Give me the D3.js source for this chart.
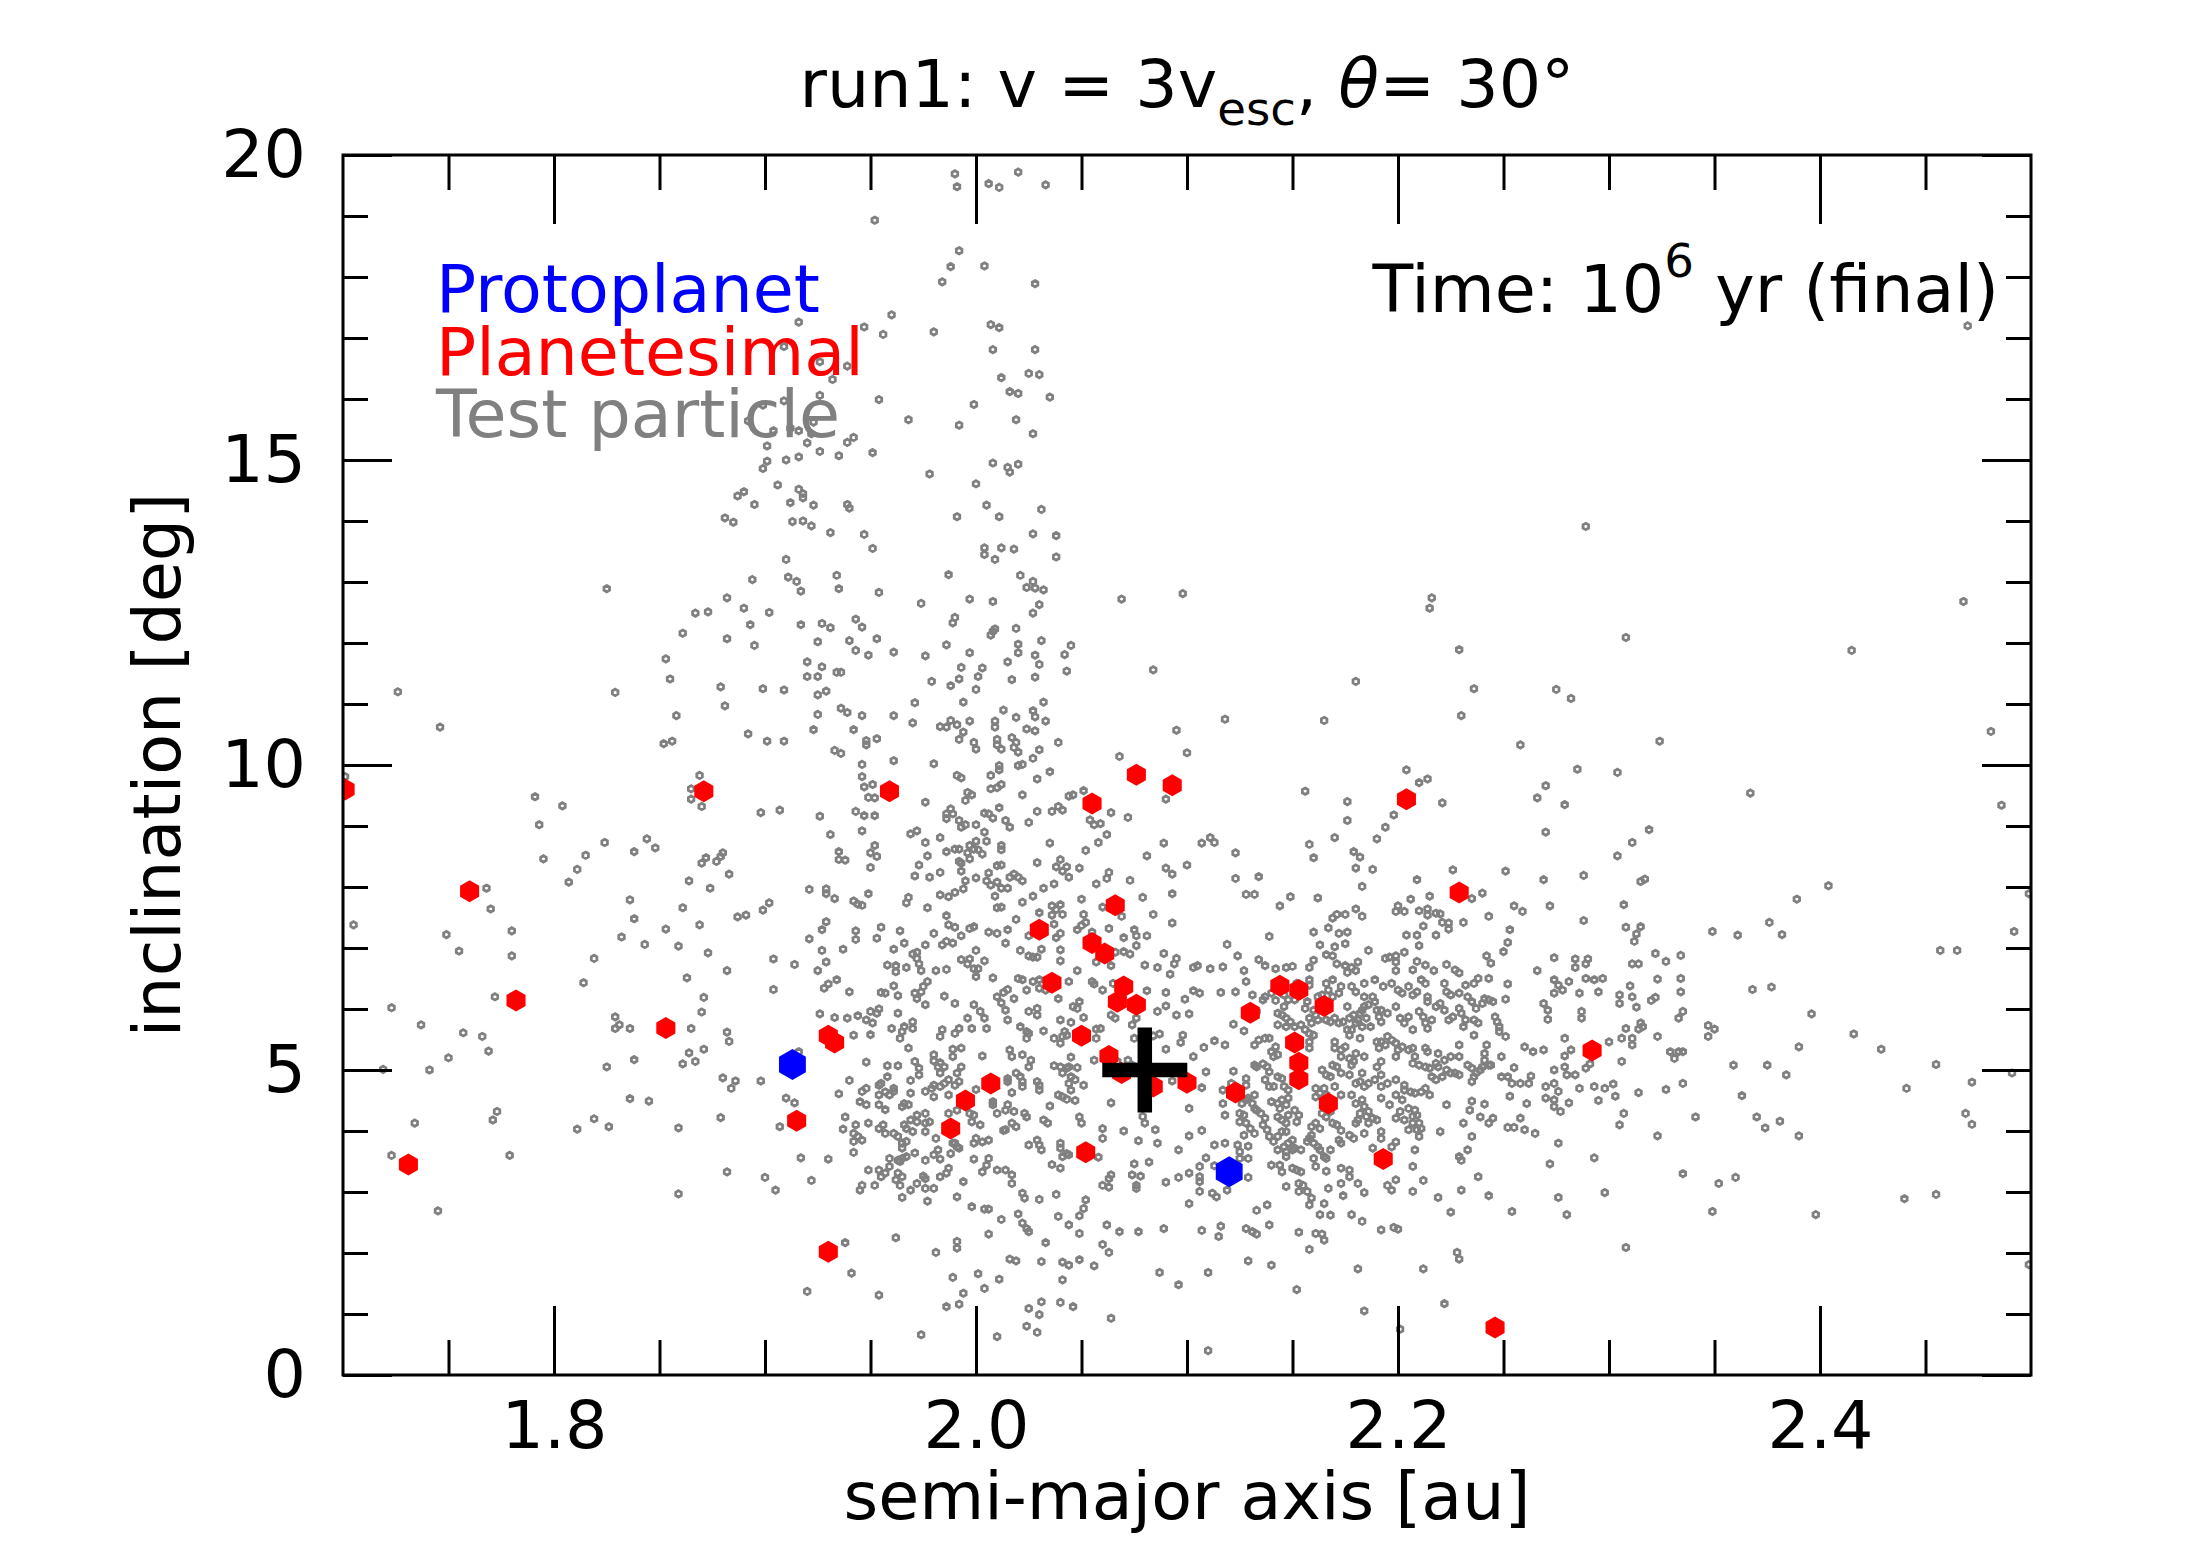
<!DOCTYPE html>
<html><head><meta charset="utf-8">
<script src="https://cdn.jsdelivr.net/npm/d3@7"></script>
<style>html,body{margin:0;padding:0;background:#fff;}svg{display:block;}text{font-family:"DejaVu Sans",sans-serif;}</style>
</head><body>
<svg id="chart" width="2188" height="1563"></svg>
<script>
// ---------------- data (semi-major axis [au], inclination [deg]) ----------------
const xDomain = [1.7, 2.5];
const yDomain = [0, 20];
const xMajorTicks = [1.8, 2.0, 2.2, 2.4];
const xMinorTicks = [1.75, 1.85, 1.9, 1.95, 2.05, 2.1, 2.15, 2.25, 2.3, 2.35, 2.45];
const yMajorTicks = [0, 5, 10, 15, 20];
const yMinorTicks = [1,2,3,4,6,7,8,9,11,12,13,14,16,17,18,19];
const titleMain = "run1: v = 3v", titleSub = "esc", titleTheta = "θ", titleEnd = "= 30°";
const timeLabel = ["Time: 10", "6", " yr (final)"];
const legendLabels = ["Protoplanet", "Planetesimal", "Test particle"];
const seriesColors = ["#0000ff", "#ff0000", "#808080"];

const protoplanets = [[1.913,5.09],[2.120,3.33]];
const centroid = [[2.080,5.0]];
const planetesimals = [
[1.701,9.60],[1.871,9.57],[1.760,7.93],
[1.959,9.57],[2.076,9.84],[2.093,9.67],[2.055,9.37],[2.066,7.70],[2.030,7.30],[2.055,7.08],[2.061,6.91],
[2.204,9.44],[2.229,7.91],
[1.782,6.14],[1.853,5.69],[1.731,3.45],
[2.036,6.43],[2.070,6.37],[2.067,6.12],[2.076,6.07],[1.930,5.56],[1.933,5.45],[2.050,5.56],[2.063,5.23],[2.069,4.95],[2.007,4.78],[1.995,4.50],[2.084,4.73],[2.100,4.79],[1.915,4.17],[1.988,4.04],[2.052,3.65],[1.930,2.02],
[2.144,6.38],[2.153,6.31],[2.165,6.05],[2.130,5.94],[2.151,5.45],[2.153,5.12],[2.153,4.85],[2.123,4.63],[2.167,4.45],[2.193,3.54],[2.292,5.32],[2.246,0.78]
];

const testParticlesHigh = [
[1.899,15.90],[1.892,15.64],[1.901,15.23],[1.901,14.98],[1.899,14.86],[1.887,14.41],[1.890,14.48],[1.895,14.27],[1.881,14.05],[1.885,13.98],
[1.990,19.69],[1.991,19.48],[2.006,19.53],[2.011,19.47],[2.020,19.72],[2.033,19.51],[1.952,18.93],[1.992,18.43],[1.988,18.17],[1.984,17.92],[2.004,18.18],[2.028,17.89],[1.916,17.26],[1.960,17.38],[1.947,17.18],[1.956,17.06],[1.980,17.10],[2.007,17.22],[2.011,17.17],[1.909,16.86],[2.008,16.81],[2.028,16.81],[1.926,16.61],[1.939,16.54],[1.932,16.32],[2.012,16.35],[2.025,16.42],[2.030,16.40],[1.926,16.06],[1.909,15.97],[1.954,15.99],[2.016,16.12],[2.020,16.09],[2.035,16.03],[1.999,15.91],[1.968,15.66],[1.992,15.57],[2.019,15.66],[2.027,15.43],[1.923,15.62],[1.904,15.48],[1.912,15.52],[1.916,15.48],[1.922,15.43],[1.920,15.28],[1.939,15.29],[1.942,15.37],[1.910,15.00],[1.916,15.05],[1.926,15.14],[1.935,15.07],[1.951,15.12],[1.978,14.77],[2.000,14.61],[2.008,14.95],[2.015,14.88],[2.016,14.80],[2.020,14.93],[1.906,14.59],[1.916,14.52],[1.918,14.45],[1.918,14.38],[1.912,14.30],[1.923,14.26],[1.939,14.27],[1.940,14.21],[2.005,14.26],[2.031,14.19],[1.991,14.07],[2.011,14.07],[1.913,13.99],[1.918,14.00],[1.922,13.92],[1.931,13.81],[1.947,13.78],[1.951,13.55],[1.910,13.37],[2.027,13.79],[2.038,13.76],[2.038,13.41],[2.004,13.56],[2.004,13.45],[2.012,13.56],[2.009,13.37],[2.018,13.54],
[2.289,13.91],[2.470,17.2]
];

const testParticlesMid = [
[1.825,12.89],[1.894,13.04],[1.882,12.74],[1.890,12.57],[1.902,12.50],[1.867,12.49],[1.873,12.51],[1.893,12.30],[1.861,12.16],[1.882,12.07],[1.895,11.96],[1.853,11.74],[1.855,11.41],[1.879,11.28],[1.899,11.25],[1.726,11.20],[1.829,11.19],[1.881,10.97],[1.858,10.81],[1.746,10.62],[1.892,10.51],[1.901,10.39],[1.852,10.35],[1.856,10.39],[1.869,9.83],[1.701,9.81],[1.865,9.61],[1.865,9.44],[1.870,9.32],[1.898,9.22],[1.791,9.48],[1.804,9.33],[1.793,9.02],[1.824,8.73],[1.844,8.79],[1.848,8.64],[1.838,8.58],[1.815,8.52],[1.795,8.46],[1.811,8.29],[1.807,8.08],[1.872,8.48],[1.870,8.39],[1.877,8.42],[1.880,8.56],[1.879,8.50],[1.883,8.21],[1.864,8.10],[1.874,7.98],[1.768,7.98],[1.770,7.64],[1.705,7.38],[1.749,7.22],[1.755,6.95],[1.780,7.28],[1.780,6.87],[1.819,6.83],[1.836,7.79],[1.838,7.48],[1.832,7.18],[1.843,7.06],[1.853,7.31],[1.859,7.03],[1.861,7.66],[1.869,7.38],[1.873,6.92],[1.882,6.63],[1.887,7.51],[1.891,7.54],[1.899,7.62],[1.902,7.74],
[1.911,13.08],[1.915,13.01],[1.917,12.85],[1.934,13.11],[1.935,12.89],[1.954,12.83],[1.987,13.12],[2.021,13.11],[2.024,12.91],[2.027,13.01],[2.028,12.90],[2.032,12.87],[2.069,12.72],[2.098,12.81],[1.974,12.65],[1.997,12.72],[2.008,12.68],[2.030,12.63],[2.027,12.49],[1.917,12.30],[1.927,12.32],[1.931,12.25],[1.943,12.39],[1.946,12.26],[1.990,12.42],[1.989,12.33],[2.007,12.13],[2.008,12.19],[2.009,12.23],[2.019,12.24],[1.925,12.02],[1.940,12.04],[1.953,12.07],[1.943,11.88],[1.949,11.80],[1.961,11.85],[1.976,11.79],[1.986,11.97],[1.997,11.84],[2.020,11.98],[2.020,11.84],[2.031,12.04],[2.028,11.80],[2.030,11.65],[2.042,11.81],[2.045,11.96],[2.015,11.69],[2.043,11.54],[2.084,11.56],[1.920,11.69],[1.927,11.61],[1.920,11.45],[1.925,11.45],[1.934,11.52],[1.936,11.52],[1.909,11.23],[1.925,11.15],[1.929,11.21],[1.979,11.37],[1.988,11.30],[1.992,11.41],[1.993,11.60],[2.001,11.45],[2.003,11.59],[2.000,11.24],[2.017,11.40],[2.028,11.44],[1.971,11.02],[1.994,11.03],[1.936,10.93],[1.939,10.86],[1.925,10.83],[1.946,10.81],[1.961,10.81],[1.970,10.69],[1.983,10.63],[1.986,10.62],[1.988,10.73],[1.991,10.66],[1.997,10.72],[2.009,10.72],[2.009,10.62],[2.013,10.90],[2.019,10.78],[2.027,10.89],[2.028,10.79],[2.032,11.03],[2.033,10.72],[1.923,10.58],[1.942,10.58],[1.909,10.39],[1.948,10.40],[1.948,10.33],[1.953,10.43],[1.994,10.54],[1.992,10.42],[1.999,10.37],[2.000,10.26],[2.010,10.42],[2.010,10.33],[2.012,10.26],[2.017,10.45],[2.019,10.37],[2.018,10.29],[2.020,10.21],[2.024,10.59],[2.028,10.56],[2.030,10.25],[2.027,10.11],[2.039,10.37],[1.933,10.24],[1.936,10.19],[1.961,10.07],[1.980,10.02],[1.946,10.01],[2.011,9.99],[2.011,9.92],[2.020,9.99],[2.022,10.01],[2.068,10.14],[2.095,10.57],[2.100,10.20],[1.946,9.81],[1.991,9.83],[1.993,9.79],[2.007,9.83],[2.029,9.77],[2.035,9.89],[1.947,9.64],[1.951,9.68],[1.949,9.47],[1.952,9.46],[1.976,9.39],[1.996,9.55],[1.998,9.51],[1.995,9.42],[2.007,9.61],[2.010,9.63],[2.012,9.68],[2.022,9.51],[2.044,9.49],[2.046,9.51],[2.051,9.58],[2.090,9.44],
[1.907,9.26],[1.926,9.16],[1.943,9.24],[1.947,9.17],[1.952,9.17],[1.986,9.20],[1.988,9.28],[1.989,9.20],[1.986,9.12],[2.004,9.21],[2.006,9.20],[2.008,9.13],[2.011,9.30],[2.014,9.09],[2.016,8.98],[2.025,9.06],[2.029,9.24],[2.036,9.24],[2.039,9.32],[2.041,9.26],[2.054,9.10],[2.056,9.02],[2.059,9.04],[2.064,9.22],[2.072,9.14],[1.992,9.09],[1.993,8.98],[1.995,9.02],[2.000,9.02],[1.931,8.86],[1.946,8.92],[1.969,8.87],[1.972,8.92],[1.976,8.73],[1.983,8.81],[2.004,8.90],[2.000,8.75],[2.005,8.75],[2.062,8.86],[2.058,8.73],[2.035,8.72],[2.089,8.72],[1.952,8.68],[1.935,8.58],[1.950,8.56],[1.953,8.50],[1.935,8.45],[1.938,8.44],[1.977,8.51],[1.986,8.58],[1.990,8.62],[1.992,8.62],[1.997,8.68],[1.999,8.62],[1.996,8.56],[2.001,8.61],[2.003,8.54],[2.012,8.68],[2.012,8.61],[2.052,8.60],[2.081,8.51],[1.950,8.32],[1.971,8.18],[1.978,8.16],[1.973,8.36],[1.983,8.24],[1.992,8.42],[1.993,8.39],[1.997,8.46],[1.993,8.26],[1.995,8.10],[2.000,8.15],[2.006,8.23],[2.010,8.35],[2.012,8.36],[2.005,8.10],[2.007,8.03],[2.010,8.08],[2.012,7.98],[2.015,7.98],[2.016,8.16],[2.018,8.21],[2.020,8.16],[2.022,8.10],[2.029,8.40],[2.038,8.33],[2.040,8.45],[2.041,8.26],[2.043,8.33],[2.044,8.16],[2.049,8.31],[2.063,8.24],[2.062,8.14],[2.073,8.11],[2.090,8.31],[2.093,8.21],[2.100,8.36],
[1.921,7.96],[1.929,7.97],[1.929,7.89],[1.933,7.81],[1.942,7.77],[1.944,7.72],[1.946,7.70],[1.949,7.89],[1.968,7.83],[1.967,7.74],[1.977,7.66],[1.983,7.87],[1.987,7.84],[1.990,7.91],[1.994,7.97],[2.009,7.85],[2.022,7.75],[2.027,7.85],[2.032,7.98],[2.037,8.05],[2.050,7.80],[2.057,8.05],[2.060,7.67],[2.069,7.52],[2.079,7.83],[2.084,7.55],[2.093,7.89],[2.093,7.41],[2.010,7.66],[2.012,7.67],[2.036,7.69],[2.040,7.71],[2.038,7.63],[2.041,7.55],[2.036,7.54],[2.030,7.58],[2.051,7.55],[1.986,7.53],[1.987,7.38],[1.990,7.34],[1.997,7.32],[1.999,7.35],[2.006,7.26],[2.010,7.24],[2.015,7.30],[2.019,7.47],[2.025,7.20],[2.037,7.39],[2.038,7.17],[2.040,7.24],[2.048,7.30],[2.050,7.37],[2.052,7.42],[2.055,7.26],[2.063,7.32],[2.070,7.17],[2.075,7.30],[2.076,7.20],[2.076,7.04],[2.081,7.20],
[1.929,7.43],[1.927,7.30],[1.943,7.28],[1.943,7.14],[1.955,7.34],[1.953,7.16],[1.964,7.28],[1.980,7.24],[1.966,7.08],[1.976,7.05],[1.984,7.05],[1.986,7.11],[1.989,7.08],[1.993,7.20],[2.014,7.08],[1.921,7.15],[1.904,6.82],[1.914,6.73],[1.927,6.96],[1.925,6.63],[1.929,6.77],[1.937,6.98],[1.961,6.98],[1.958,6.72],[1.962,6.71],[1.967,6.68],[1.962,6.61],[1.970,6.90],[1.972,6.93],[1.972,6.83],[1.973,6.74],[1.974,6.63],[1.981,6.63],[1.986,6.65],[1.993,6.81],[1.997,6.82],[1.996,6.74],[1.999,6.66],[2.001,6.66],[2.000,6.96],[2.004,6.79],[2.021,6.96],[2.025,6.87],[2.027,6.85],[2.029,6.85],[2.031,6.98],[2.040,6.97],[2.040,6.79],[2.048,6.63],[2.057,6.77],[2.064,6.71],[2.066,6.93],[2.070,6.94],[2.073,6.90],[2.080,6.72],[2.086,6.68],[2.089,6.91],[2.095,6.83],[2.094,6.74],[2.103,6.68],[2.092,6.57],
[2.216,12.74],[2.215,12.57],[2.229,11.89],[2.180,11.37],[2.236,11.25],[2.275,11.24],[2.282,11.09],[2.118,10.75],[2.165,10.73],[2.230,10.81],[2.258,10.33],[2.204,9.92],[2.285,9.93],[2.304,9.88],[2.210,9.71],[2.214,9.77],[2.221,9.38],[2.156,9.57],[2.176,9.40],[2.176,9.09],[2.198,9.18],[2.194,8.98],[2.190,8.79],[2.170,8.81],[2.158,8.70],[2.160,8.48],[2.179,8.58],[2.182,8.49],[2.180,8.31],[2.188,8.29],[2.183,8.01],[2.266,9.46],[2.270,9.66],[2.279,9.35],[2.270,8.90],[2.107,8.72],[2.111,8.81],[2.113,8.73],[2.123,8.56],[2.123,8.14],[2.134,8.17],[2.128,7.88],[2.132,7.88],[2.144,7.69],[2.149,7.84],[2.162,7.82],[2.226,8.28],[2.209,8.12],[2.251,8.26],[2.269,8.12],[2.288,8.19],[2.235,7.81],[2.240,7.90],[2.206,7.80],[2.215,7.85],[2.255,7.69],[2.259,7.60],[2.272,7.69],[2.288,7.45],[2.304,8.51],
[2.200,7.69],[2.199,7.60],[2.203,7.60],[2.210,7.61],[2.214,7.64],[2.214,7.54],[2.218,7.57],[2.220,7.56],[2.221,7.42],[2.224,7.41],[2.224,7.31],[2.231,7.42],[2.243,7.52],[2.253,7.30],[2.212,7.36],[2.204,7.21],[2.209,7.21],[2.218,7.21],[2.210,7.04],[2.180,7.64],[2.183,7.52],[2.175,7.55],[2.169,7.49],[2.171,7.55],[2.167,7.33],[2.172,7.24],[2.176,7.26],[2.160,7.26],[2.139,7.19],[2.119,7.06],[2.124,6.87],[2.163,7.05],[2.170,7.02],[2.175,7.07],[2.166,6.89],[2.169,6.87],[2.186,6.96],[2.160,6.80],[2.158,6.68],[2.171,6.74],[2.175,6.71],[2.178,6.68],[2.181,6.77],[2.180,6.63],[2.176,6.60],[2.194,6.83],[2.196,6.85],[2.199,6.87],[2.199,6.77],[2.199,6.63],[2.203,6.93],[2.209,6.78],[2.213,6.72],[2.207,6.64],[2.217,6.63],[2.223,6.73],[2.227,6.64],[2.229,6.59],[2.252,7.09],[2.250,6.94],[2.242,6.87],[2.244,6.75],[2.274,6.84],[2.284,6.82],[2.289,6.74],[2.290,6.82],[2.284,6.68],[2.266,6.63],[2.105,6.71],[2.111,6.66],[2.117,6.69],[2.127,6.63],[2.134,6.81],[2.137,6.71],[2.142,6.66],[2.147,6.68],[2.150,6.70],
[2.468,12.68],[2.308,12.09],[2.415,11.88],[2.481,10.55],[2.324,10.39],[2.367,9.54],[2.486,9.34],[2.319,8.94],[2.311,8.73],[2.315,8.09],[2.317,8.13],[2.307,7.71],[2.404,8.02],[2.389,7.80],[2.308,7.34],[2.315,7.35],[2.313,7.23],[2.312,7.11],[2.349,7.27],[2.361,7.21],[2.376,7.42],[2.382,7.22],[2.492,7.27],[2.457,6.96],[2.465,6.96],[2.322,6.91],[2.327,6.78],[2.334,6.88],[2.311,6.74],[2.314,6.74],[2.499,7.89]
];

const testParticlesLow = [
[1.814,6.43],[1.863,6.51],[1.772,6.20],[1.723,6.02],[1.737,5.74],[1.757,5.61],[1.766,5.55],[1.769,5.31],[1.750,5.20],[1.741,5.00],[1.719,5.01],[1.871,6.19],[1.870,5.95],[1.829,5.87],[1.831,5.74],[1.829,5.68],[1.836,5.68],[1.865,5.68],[1.882,5.62],[1.883,5.47],[1.871,5.34],[1.864,5.28],[1.861,5.10],[1.867,5.14],[1.838,5.17],[1.825,5.05],[1.880,4.87],[1.886,4.82],[1.884,4.70],[1.898,4.82],[1.836,4.53],[1.845,4.49],[1.879,4.22],[1.811,4.03],[1.819,4.20],[1.826,4.07],[1.859,4.05],[1.773,4.32],[1.771,4.18],[1.734,4.13],[1.723,3.60],[1.779,3.60],[1.745,2.69],[1.882,3.33],[1.900,3.24],[1.859,2.97],
[1.904,6.32],[1.928,6.34],[1.930,6.41],[1.934,6.48],[1.940,6.28],[1.955,6.27],[1.957,6.26],[1.961,6.38],[1.963,6.22],[1.971,6.26],[1.972,6.17],[1.974,6.28],[1.975,6.37],[1.977,6.45],[1.976,6.07],[1.985,6.21],[1.990,6.09],[2.000,6.53],[2.008,6.51],[2.010,6.20],[2.013,6.27],[2.015,6.32],[2.012,6.10],[2.014,5.98],[2.018,6.17],[2.020,6.50],[2.022,6.48],[2.024,6.31],[2.027,6.45],[2.030,6.48],[2.030,6.34],[2.033,6.31],[2.039,6.17],[2.044,6.45],[2.046,6.04],[2.048,6.01],[2.049,6.12],[2.055,6.45],[2.056,6.41],[2.060,6.31],[2.065,6.42],[2.081,6.30],[2.090,6.27],[2.099,6.16],[2.103,6.30],
[1.926,5.92],[1.933,5.86],[1.939,5.85],[1.944,5.89],[1.948,5.82],[1.950,5.96],[1.953,5.93],[1.954,6.00],[1.951,5.77],[1.963,5.93],[1.950,5.58],[1.960,5.68],[1.964,5.52],[1.965,5.63],[1.966,5.71],[1.970,5.79],[1.970,5.68],[1.942,5.57],[1.968,5.36],[1.984,5.66],[1.983,5.55],[1.990,5.60],[1.992,5.68],[1.996,5.85],[1.998,5.68],[1.999,6.07],[2.002,5.96],[2.004,5.85],[2.005,5.68],[2.015,5.82],[2.021,5.71],[2.024,5.63],[2.024,5.52],[2.025,5.60],[2.029,6.01],[2.029,5.90],[2.025,5.96],[2.032,5.64],[2.037,5.52],[2.040,5.82],[2.041,5.55],[2.043,5.57],[2.045,5.78],[2.040,5.44],[2.042,5.63],[2.051,5.86],[2.057,5.52],[2.057,5.67],[2.059,5.68],[2.064,5.90],[2.066,5.85],[2.074,5.74],[2.075,5.52],[2.076,5.85],[2.086,5.96],[2.090,6.05],[2.095,5.90],[2.101,5.92],[2.087,5.59],[2.084,5.56],[2.098,5.57],[2.097,5.45],[2.090,5.34],[2.103,5.22],
[1.916,5.30],[1.948,5.13],[1.958,5.07],[1.963,5.07],[1.971,5.14],[1.973,5.03],[1.973,4.92],[1.980,5.25],[1.980,5.15],[1.982,5.05],[1.983,5.12],[1.985,5.05],[1.983,4.95],[1.989,5.34],[1.989,5.22],[1.993,5.36],[1.993,5.05],[2.003,5.23],[2.016,5.33],[2.017,5.22],[2.022,5.25],[2.026,5.16],[2.025,5.05],[2.045,5.21],[2.056,5.16],[2.067,5.14],[2.072,5.16],[2.074,5.08],[2.037,5.07],[2.040,5.05],[2.041,4.95],[2.043,5.03],[2.044,5.05],[2.048,5.04],
[1.940,4.83],[1.935,4.61],[1.946,4.65],[1.948,4.70],[1.954,4.75],[1.955,4.78],[1.954,4.59],[1.957,4.64],[1.959,4.59],[1.961,4.70],[1.961,4.65],[1.958,4.89],[1.969,4.83],[1.969,4.62],[1.976,4.65],[1.979,4.70],[1.980,4.56],[1.980,4.75],[1.983,4.73],[1.985,4.78],[1.987,4.84],[1.990,4.75],[1.992,4.81],[1.991,4.95],[1.987,4.59],[2.000,4.68],[2.015,4.86],[2.015,4.81],[2.019,4.95],[2.021,4.89],[2.022,4.81],[2.022,4.73],[2.017,4.63],[2.029,4.81],[2.030,4.75],[2.030,4.67],[2.039,4.59],[2.041,4.56],[2.043,4.52],[2.047,4.50],[2.045,4.67],[2.045,4.89],[2.047,4.84],[2.044,4.78],[2.051,4.75],[2.093,4.82],
[1.910,4.54],[1.914,4.46],[1.907,4.07],[1.945,4.48],[1.948,4.43],[1.954,4.43],[1.957,4.35],[1.956,4.10],[1.954,4.04],[1.938,4.23],[1.937,4.03],[1.943,4.10],[1.942,3.96],[1.944,3.91],[1.946,3.85],[1.942,3.83],[1.942,3.65],[1.949,4.13],[1.957,3.96],[1.961,3.96],[1.963,3.91],[1.965,3.80],[1.967,3.83],[1.965,3.72],[1.965,4.40],[1.966,4.45],[1.968,4.43],[1.966,4.10],[1.967,4.04],[1.969,4.18],[1.970,3.99],[1.972,4.26],[1.972,4.15],[1.976,4.29],[1.976,4.13],[1.978,4.15],[1.976,3.99],[1.981,3.88],[1.987,4.29],[1.991,4.34],[1.997,4.29],[1.999,4.26],[1.998,4.15],[2.002,4.10],[1.990,3.80],[1.991,3.74],[1.992,3.72],[1.988,3.63],[1.989,3.80],[2.000,3.88],[1.999,3.80],[2.003,3.82],[2.006,3.85],[2.008,4.48],[2.008,4.43],[2.010,4.29],[2.014,4.34],[2.015,4.43],[2.014,4.02],[2.017,4.13],[2.019,4.07],[2.018,4.32],[2.023,4.29],[2.024,4.23],[2.013,4.01],[2.032,4.18],[2.034,4.13],[2.035,4.41],[2.049,4.23],[2.050,4.13],
[2.025,3.77],[2.029,3.85],[2.030,3.77],[2.031,3.69],[2.040,3.80],[2.040,3.72],[2.041,3.58],[2.043,3.63],[2.044,3.61],[2.036,3.45],[2.040,3.39],[2.058,3.57],[2.060,4.04],[2.060,3.88],[2.064,4.46],[2.070,4.00],[2.077,3.84],[2.079,4.24],[2.080,4.13],[2.085,4.02],[2.086,3.80],[2.096,3.69],[2.101,4.37],[2.101,3.92],[2.075,3.46],[2.082,3.49],[2.074,3.28],[2.078,3.26],[2.076,3.11],[2.076,3.06],[2.090,3.16],[2.096,3.24],[2.101,3.31],[2.060,3.11],[2.063,3.22],[2.064,3.28],[2.063,3.08],
[1.917,3.56],[1.930,3.54],[1.922,3.19],[1.905,3.03],[1.945,3.03],[1.946,3.11],[1.949,3.36],[1.952,3.11],[1.954,3.36],[1.955,3.25],[1.957,3.31],[1.959,3.55],[1.959,3.42],[1.963,3.52],[1.964,3.50],[1.965,3.55],[1.967,3.58],[1.963,3.31],[1.962,3.20],[1.964,3.11],[1.965,3.25],[1.965,2.91],[1.969,3.03],[1.971,3.64],[1.972,3.14],[1.975,3.26],[1.976,3.22],[1.976,3.06],[1.980,3.06],[1.976,3.52],[1.980,3.61],[1.983,3.54],[1.982,3.69],[1.983,3.25],[1.986,3.31],[1.987,3.39],[1.977,2.85],[1.994,3.17],[1.999,3.54],[2.003,3.33],[2.005,3.44],[2.006,3.55],[2.010,3.36],[2.014,3.36],[2.017,3.28],[2.017,3.14],
[1.991,2.92],[1.998,2.76],[2.004,2.72],[2.006,2.72],[2.012,2.55],[2.020,2.64],[2.022,2.98],[2.023,2.90],[2.030,2.88],[2.038,2.96],[2.022,2.49],[2.024,2.40],[2.025,2.35],[2.039,2.60],[2.044,2.46],[2.049,2.32],[2.049,2.61],[2.051,2.73],[2.052,2.87],[2.062,2.46],[2.068,2.35],[2.077,2.35],[2.089,2.40],[2.101,2.81],[2.006,2.31],[1.962,2.25],[1.938,2.17],[1.941,1.67],[1.920,1.37],[1.954,1.31],[1.981,2.01],[1.991,2.19],[1.991,2.08],[2.016,1.90],[2.019,1.87],[2.031,1.86],[2.033,2.17],[2.041,1.85],[2.044,1.80],[2.049,1.89],[2.056,1.79],[2.060,2.14],[2.063,2.01],[2.087,1.68],[2.096,1.48],[1.989,1.60],[2.001,1.66],[2.004,1.42],[2.011,1.57],[2.041,1.56],[1.994,1.34],[1.986,1.12],[1.992,1.16],[2.025,1.09],[2.031,1.20],[2.030,0.99],[2.040,1.19],[2.046,1.12],[2.064,0.93],[2.024,0.80],[2.029,0.70],[1.974,0.66],[2.010,0.63],
[2.106,6.26],[2.116,6.27],[2.123,6.28],[2.128,6.45],[2.131,6.23],[2.136,6.15],[2.137,6.20],[2.142,6.14],[2.140,6.26],[2.146,6.04],[2.133,5.96],[2.122,5.75],[2.127,5.64],[2.113,5.48],[2.118,5.41],[2.108,5.37],[2.109,4.97],[2.122,4.98],[2.107,4.71],[2.117,4.67],[2.121,4.78],[2.128,4.86],[2.128,4.75],[2.117,4.45],[2.118,4.26],[2.126,4.45],[2.128,4.51],[2.129,4.54],[2.131,4.45],[2.132,4.59],[2.132,4.37],[2.133,4.34],[2.135,4.29],[2.125,4.29],[2.125,4.15],[2.127,4.26],[2.128,4.13],[2.130,4.04],[2.132,3.96],[2.107,4.01],[2.127,3.93],[2.136,4.10],[2.137,4.21],[2.138,4.02],[2.139,3.91],[2.141,3.83],[2.143,3.69],[2.113,3.77],[2.118,3.80],[2.124,3.77],[2.125,3.66],[2.129,3.75],[2.125,3.55],[2.109,3.56],[2.113,3.43],[2.106,3.42],[2.106,3.25],[2.106,3.17],[2.106,3.01],[2.112,2.98],[2.114,2.92],[2.119,3.03],[2.129,3.24],[2.129,3.55],[2.133,2.70],[2.138,2.79],[2.116,2.44],[2.115,2.27],[2.107,2.37],[2.128,2.40],[2.131,2.35],[2.133,2.31],[2.139,2.46],[2.129,1.87],[2.140,1.80],[2.110,1.68],[2.110,0.40],[2.152,1.40],
[2.143,5.93],[2.145,5.90],[2.147,5.85],[2.149,5.79],[2.147,5.71],[2.151,5.71],[2.154,5.74],[2.156,5.66],[2.158,5.60],[2.160,5.57],[2.159,5.77],[2.158,5.85],[2.143,5.74],[2.146,6.23],[2.148,6.15],[2.151,6.15],[2.156,6.01],[2.157,6.12],[2.160,5.98],[2.162,6.20],[2.164,6.23],[2.167,6.31],[2.169,6.20],[2.172,6.26],[2.173,6.37],[2.176,6.04],[2.166,6.42],[2.169,6.48],[2.158,6.48],[2.152,6.42],[2.132,5.41],[2.134,5.49],[2.137,5.52],[2.139,5.52],[2.142,5.38],[2.140,5.30],[2.143,5.25],[2.141,5.22],[2.132,5.08],[2.133,5.05],[2.136,5.10],[2.138,5.05],[2.139,4.97],[2.137,4.84],[2.139,4.73],[2.141,4.73],[2.143,4.89],[2.145,4.86],[2.146,4.73],[2.148,4.67],[2.140,4.48],[2.143,4.45],[2.145,4.51],[2.148,4.54],[2.147,4.43],[2.144,4.37],[2.143,4.23],[2.145,4.18],[2.147,4.13],[2.148,4.26],[2.151,4.34],[2.153,4.26],[2.152,4.15],[2.145,3.99],[2.147,3.99],[2.143,3.91],[2.146,3.74],[2.148,3.80],[2.150,3.85],[2.147,3.66],[2.158,5.46],[2.158,5.36],[2.164,5.00],[2.166,4.92],[2.161,4.70],[2.161,4.56],[2.163,4.62],[2.165,4.70],[2.166,4.59],[2.164,4.29],[2.168,4.32],[2.169,4.13],[2.171,4.10],[2.166,4.23],[2.158,3.88],[2.159,3.93],[2.157,3.83],[2.160,3.80],[2.162,3.74],[2.161,4.13],[2.163,4.04],[2.159,4.07],[2.154,3.69],[2.147,3.58],[2.150,3.69],[2.151,3.72],[2.140,3.44],[2.144,3.44],[2.145,3.33],[2.150,3.39],[2.152,3.36],[2.154,3.33],[2.147,3.09],[2.153,3.14],[2.155,3.11],[2.153,3.01],[2.157,3.01],[2.159,2.90],[2.158,2.79],[2.165,2.81],[2.161,3.42],[2.166,3.34],[2.163,2.63],[2.168,2.62],[2.153,2.34],[2.161,2.32],[2.164,2.31],[2.165,2.21],[2.158,2.06],[2.160,3.55],[2.163,3.69],[2.165,3.58],[2.168,3.69],
[2.172,5.77],[2.174,5.79],[2.176,5.66],[2.177,5.85],[2.179,5.90],[2.180,5.77],[2.181,5.82],[2.182,5.93],[2.183,5.98],[2.184,6.04],[2.186,6.07],[2.188,6.20],[2.189,6.12],[2.190,5.98],[2.191,5.87],[2.192,5.79],[2.178,5.66],[2.177,5.57],[2.183,5.71],[2.187,5.71],[2.185,5.85],[2.178,6.37],[2.180,6.28],[2.184,6.20],[2.184,6.42],[2.189,6.48],[2.193,6.37],[2.197,6.42],[2.200,6.31],[2.202,6.26],[2.205,6.37],[2.207,6.23],[2.209,6.28],[2.211,6.48],[2.213,6.42],[2.214,6.20],[2.214,6.12],[2.192,5.98],[2.195,5.93],[2.199,6.04],[2.201,5.85],[2.203,5.77],[2.205,5.87],[2.207,5.66],[2.210,5.96],[2.212,5.87],[2.213,5.77],[2.214,5.68],[2.216,5.82],[2.218,6.04],[2.220,6.09],[2.222,5.98],[2.224,5.82],[2.226,5.87],[2.229,6.01],[2.230,5.93],[2.233,6.20],[2.235,6.12],[2.237,6.01],[2.240,6.09],[2.241,6.17],[2.243,6.15],[2.245,6.12],[2.236,5.82],[2.238,5.77],[2.222,6.42],[2.223,6.28],[2.225,6.23],[2.229,6.26],[2.232,6.39],[2.236,6.42],[2.238,6.50],[2.243,6.50],[2.232,5.82],[2.236,5.57],[2.246,5.87],[2.247,5.79],[2.248,5.71],[2.248,5.63],[2.251,5.55],[2.231,5.71],[2.229,5.41],[2.225,5.22],[2.229,5.22],[2.233,5.08],[2.235,5.03],[2.237,4.95],[2.239,5.00],[2.240,5.05],[2.241,5.27],[2.241,5.16],[2.242,5.41],[2.243,5.08],[2.244,5.08],[2.236,4.89],[2.235,4.81],[2.219,5.27],[2.218,5.11],[2.219,5.05],[2.222,5.16],[2.223,5.00],[2.225,4.95],[2.229,4.92],[2.227,4.95],[2.216,4.89],[2.218,4.84],[2.221,4.89],
[2.195,5.55],[2.197,5.49],[2.199,5.44],[2.194,5.41],[2.191,5.36],[2.192,5.46],[2.190,5.46],[2.199,5.22],[2.200,5.33],[2.202,5.38],[2.205,5.33],[2.207,5.36],[2.208,5.22],[2.213,5.36],[2.214,5.30],[2.207,5.11],[2.210,5.08],[2.213,5.05],[2.215,5.03],[2.170,5.36],[2.173,5.33],[2.175,5.38],[2.173,5.22],[2.177,5.19],[2.180,5.27],[2.182,5.52],[2.184,5.22],[2.179,5.14],[2.169,5.08],[2.171,5.05],[2.173,4.95],[2.177,4.92],[2.178,5.08],[2.183,4.95],[2.190,5.05],[2.192,5.14],[2.168,4.89],[2.170,4.73],[2.173,4.59],[2.178,4.59],[2.180,4.78],[2.182,4.81],[2.184,4.73],[2.186,4.78],[2.189,4.84],[2.192,4.92],[2.192,4.73],[2.195,4.78],[2.199,4.84],[2.203,4.75],[2.203,4.67],[2.206,4.64],[2.208,4.62],[2.211,4.64],[2.213,4.70],[2.215,4.59],[2.161,5.90],[2.162,5.82],[2.166,5.82],[2.168,5.79],[2.170,5.85],[2.158,6.39],[2.170,5.46],
[2.180,4.45],[2.183,4.51],[2.184,4.40],[2.182,4.29],[2.185,4.24],[2.186,4.13],[2.188,4.21],[2.190,4.18],[2.186,4.32],[2.181,4.18],[2.180,4.13],[2.192,4.54],[2.196,4.43],[2.199,4.59],[2.202,4.51],[2.201,4.32],[2.205,4.37],[2.207,4.24],[2.208,4.34],[2.209,4.26],[2.210,4.13],[2.207,4.13],[2.209,4.02],[2.211,4.04],[2.210,3.91],[2.205,4.02],[2.203,4.18],[2.199,4.21],[2.173,4.01],[2.177,3.93],[2.179,3.88],[2.172,3.85],[2.173,3.80],[2.166,3.55],[2.184,3.96],[2.188,3.72],[2.192,3.99],[2.192,3.88],[2.199,3.82],[2.173,3.39],[2.177,3.36],[2.177,3.25],[2.173,3.14],[2.181,3.14],[2.184,2.99],[2.174,2.94],[2.195,3.11],[2.197,3.03],[2.199,3.20],[2.207,3.42],[2.207,3.01],[2.212,3.19],[2.167,3.06],[2.178,2.63],[2.183,2.52],[2.192,2.38],[2.198,2.42],[2.200,2.39],[2.197,3.74],[2.208,3.69],[2.220,3.99],[2.219,2.91],[2.225,2.67],[2.230,3.03],[2.229,3.58],[2.230,3.52],[2.233,3.69],[2.235,3.91],[2.223,4.43],[2.231,4.13],[2.234,4.34],[2.235,4.49],[2.241,4.44],[2.239,4.23],[2.243,4.13],[2.245,4.21],[2.238,3.25],[2.243,2.94],[2.228,2.01],[2.229,1.90],[2.212,1.74],[2.181,1.74],[2.222,1.17],[2.184,1.05],[2.201,0.75],
[2.252,6.41],[2.251,6.16],[2.249,5.22],[2.255,5.04],[2.252,4.89],[2.249,4.89],[2.254,4.78],[2.258,4.78],[2.263,4.90],[2.262,4.78],[2.260,5.38],[2.264,5.30],[2.269,5.33],[2.253,4.57],[2.261,4.45],[2.258,4.21],[2.260,4.02],[2.265,3.96],[2.252,4.06],[2.255,4.06],[2.269,6.09],[2.271,5.98],[2.271,5.83],[2.274,6.48],[2.276,6.39],[2.274,6.26],[2.278,6.31],[2.281,6.45],[2.286,6.26],[2.289,6.50],[2.293,6.48],[2.295,6.28],[2.297,6.50],[2.279,5.52],[2.279,5.23],[2.282,5.33],[2.287,5.96],[2.287,5.85],[2.274,5.00],[2.279,5.05],[2.280,4.92],[2.284,4.92],[2.289,5.03],[2.291,5.10],[2.270,4.73],[2.274,4.78],[2.276,4.65],[2.270,4.54],[2.274,4.51],[2.274,4.40],[2.277,4.32],[2.281,4.46],[2.286,4.70],[2.293,4.73],[2.298,4.70],[2.302,4.77],[2.295,4.50],[2.300,5.46],[2.303,4.57],[2.276,3.80],[2.272,3.46],[2.293,3.56],[2.276,2.91],[2.280,2.63],[2.298,2.99],[2.254,2.68],
[2.305,6.23],[2.305,6.09],[2.310,6.38],[2.311,6.20],[2.313,6.03],[2.320,6.14],[2.322,6.19],[2.323,6.49],[2.334,6.50],[2.334,6.28],[2.335,5.96],[2.333,5.85],[2.315,5.77],[2.316,5.71],[2.314,5.67],[2.308,5.68],[2.306,5.52],[2.311,5.52],[2.311,5.41],[2.323,5.55],[2.329,5.30],[2.331,5.19],[2.333,5.30],[2.335,5.30],[2.306,5.14],[2.347,5.73],[2.350,5.67],[2.347,5.55],[2.368,6.32],[2.377,6.36],[2.396,5.92],[2.416,5.59],[2.390,5.38],[2.429,5.34],[2.359,5.08],[2.375,5.08],[2.384,4.92],[2.455,5.09],[2.491,4.95],[2.472,4.80],[2.441,4.70],[2.314,4.63],[2.327,4.68],[2.335,4.78],[2.363,4.58],[2.307,4.29],[2.305,4.10],[2.341,4.23],[2.370,4.23],[2.374,4.05],[2.381,4.16],[2.390,3.92],[2.323,3.92],[2.469,4.29],[2.472,4.11],[2.335,3.30],[2.352,3.14],[2.360,3.24],[2.349,2.68],[2.398,2.63],[2.440,2.89],[2.455,2.96],[2.308,2.09],[2.499,1.81]
];

// ---------------- drawing ----------------
const W = 2188, H = 1563;
const M = {left: 343, right: 2031, top: 155, bottom: 1375};
const FS = 66.7;
const svg = d3.select('#chart');
const x = d3.scaleLinear().domain(xDomain).range([M.left, M.right]);
const y = d3.scaleLinear().domain(yDomain).range([M.bottom, M.top]);

const hexType = {
  draw(ctx, size) {
    const r = Math.sqrt(size / (1.5 * Math.sqrt(3)));
    for (let k = 0; k < 6; k++) {
      const a = -Math.PI / 2 + k * Math.PI / 3;
      const px = r * Math.cos(a), py = r * Math.sin(a);
      if (k === 0) ctx.moveTo(px, py); else ctx.lineTo(px, py);
    }
    ctx.closePath();
  }
};
const hexArea = r => 1.5 * Math.sqrt(3) * r * r;

svg.append('defs').append('clipPath').attr('id', 'plotclip')
  .append('rect').attr('x', M.left).attr('y', M.top)
  .attr('width', M.right - M.left).attr('height', M.bottom - M.top);

// legend & annotation text (under the markers)
const legend = svg.append('g').attr('font-size', FS);
legendLabels.forEach((t, k) => {
  legend.append('text').attr('x', 436).attr('y', 312 + k * 62.5)
    .attr('fill', seriesColors[k]).text(t);
});
const tt = svg.append('text').attr('x', 1999).attr('y', 312).attr('text-anchor', 'end')
  .attr('font-size', FS).attr('fill', '#000');
tt.append('tspan').text(timeLabel[0]);
tt.append('tspan').attr('font-size', FS * 0.7).attr('dy', -35).text(timeLabel[1]);
tt.append('tspan').attr('dy', 35).text(timeLabel[2]);

const plot = svg.append('g').attr('clip-path', 'url(#plotclip)');
const allTest = testParticlesHigh.concat(testParticlesMid, testParticlesLow);
plot.append('g').selectAll('path').data(allTest).join('path')
  .attr('transform', d => `translate(${x(d[0])},${y(d[1])})`)
  .attr('d', d3.symbol().type(hexType).size(hexArea(3.2)))
  .attr('fill', 'none').attr('stroke', seriesColors[2]).attr('stroke-width', 2.8);

plot.append('g').selectAll('path').data(planetesimals).join('path')
  .attr('transform', d => `translate(${x(d[0])},${y(d[1])})`)
  .attr('d', d3.symbol().type(hexType).size(hexArea(11)))
  .attr('fill', seriesColors[1]);

plot.append('g').selectAll('path').data(protoplanets).join('path')
  .attr('transform', d => `translate(${x(d[0])},${y(d[1])})`)
  .attr('d', d3.symbol().type(hexType).size(hexArea(15.5)))
  .attr('fill', seriesColors[0]);

plot.append('g').selectAll('path').data(centroid).join('path')
  .attr('transform', d => `translate(${x(d[0])},${y(d[1])})`)
  .attr('d', 'M-42.5,0H42.5M0,-42.5V42.5')
  .attr('stroke', '#000').attr('stroke-width', 14.5).attr('fill', 'none');

// axes
function styleAxis(g) {
  g.select('.domain').remove();
  g.selectAll('.tick line').attr('stroke', '#000').attr('stroke-width', 3);
  g.selectAll('.tick text').attr('font-family', 'DejaVu Sans').attr('font-size', FS).attr('fill', '#000');
}
svg.append('g').attr('transform', `translate(0,${M.bottom})`)
  .call(d3.axisBottom(x).tickValues(xMajorTicks).tickSize(-69).tickSizeOuter(0).tickPadding(26).tickFormat(d3.format('.1f')))
  .call(styleAxis);
svg.append('g').attr('transform', `translate(0,${M.bottom})`)
  .call(d3.axisBottom(x).tickValues(xMinorTicks).tickSize(-35).tickSizeOuter(0).tickFormat(''))
  .call(styleAxis);
svg.append('g').attr('transform', `translate(0,${M.top})`)
  .call(d3.axisTop(x).tickValues(xMajorTicks).tickSize(-69).tickSizeOuter(0).tickFormat(''))
  .call(styleAxis);
svg.append('g').attr('transform', `translate(0,${M.top})`)
  .call(d3.axisTop(x).tickValues(xMinorTicks).tickSize(-35).tickSizeOuter(0).tickFormat(''))
  .call(styleAxis);
svg.append('g').attr('transform', `translate(${M.left},0)`)
  .call(d3.axisLeft(y).tickValues(yMajorTicks).tickSize(-49).tickSizeOuter(0).tickPadding(37).tickFormat(d3.format('d')))
  .call(styleAxis);
svg.append('g').attr('transform', `translate(${M.left},0)`)
  .call(d3.axisLeft(y).tickValues(yMinorTicks).tickSize(-25).tickSizeOuter(0).tickFormat(''))
  .call(styleAxis);
svg.append('g').attr('transform', `translate(${M.right},0)`)
  .call(d3.axisRight(y).tickValues(yMajorTicks).tickSize(-49).tickSizeOuter(0).tickFormat(''))
  .call(styleAxis);
svg.append('g').attr('transform', `translate(${M.right},0)`)
  .call(d3.axisRight(y).tickValues(yMinorTicks).tickSize(-25).tickSizeOuter(0).tickFormat(''))
  .call(styleAxis);

svg.append('rect').attr('x', M.left).attr('y', M.top)
  .attr('width', M.right - M.left).attr('height', M.bottom - M.top)
  .attr('fill', 'none').attr('stroke', '#000').attr('stroke-width', 3);

// title and axis labels
const title = svg.append('text').attr('x', (M.left + M.right) / 2).attr('y', 107)
  .attr('text-anchor', 'middle').attr('font-size', FS).attr('fill', '#000');
title.append('tspan').text(titleMain);
title.append('tspan').attr('font-size', FS * 0.7).attr('dy', 18).text(titleSub);
title.append('tspan').attr('dy', -18).text(', ');
title.append('tspan').attr('font-style', 'italic').text(titleTheta);
title.append('tspan').text(titleEnd);

svg.append('text').attr('x', (M.left + M.right) / 2).attr('y', 1519)
  .attr('text-anchor', 'middle').attr('font-size', FS).attr('fill', '#000')
  .text('semi-major axis [au]');
svg.append('text').attr('transform', `translate(180,${(M.top + M.bottom) / 2}) rotate(-90)`)
  .attr('text-anchor', 'middle').attr('font-size', FS).attr('fill', '#000')
  .text('inclination [deg]');
</script>
</body></html>
